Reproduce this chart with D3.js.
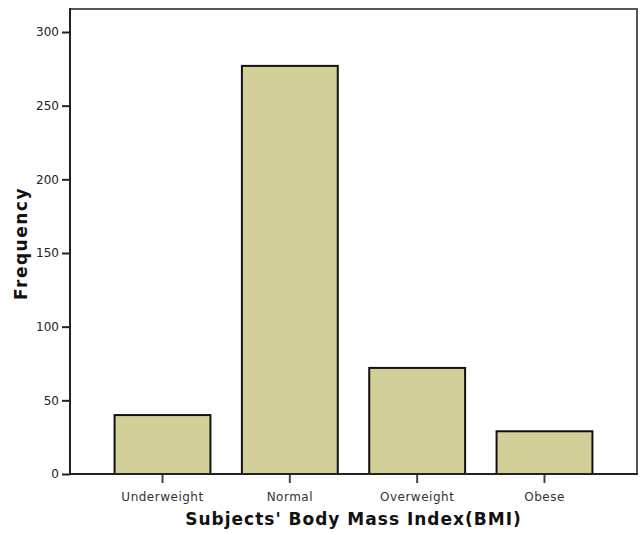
<!DOCTYPE html>
<html><head><meta charset="utf-8">
<script src="https://cdn.jsdelivr.net/npm/d3@7"></script>
<style>body{margin:0;background:#fff}svg{display:block}</style>
</head><body><svg id="c" width="640" height="533"></svg>
<script>
const categories = ["Underweight", "Normal", "Overweight", "Obese"];
const frequencies = [40, 277, 72, 29];
const yTicks = [0, 50, 100, 150, 200, 250, 300];
const xTitle = "Subjects' Body Mass Index(BMI)";
const yTitle = "Frequency";

const svg = d3.select("#c");
const L = 70, R = 637, T = 9, B = 474;
const x = d3.scaleBand().domain(categories).range([L, R]).paddingInner(0.247).paddingOuter(0.35);
const y = d3.scaleLinear().domain([0, 300]).range([B, 32]);

// frame top/right
svg.append("path").attr("d", `M${L},${T}H${R}V${B}`).attr("fill", "none").attr("stroke", "#555").attr("stroke-width", 2);

// bars
svg.append("g").selectAll("rect").data(categories).join("rect")
  .attr("x", d => x(d)).attr("width", x.bandwidth())
  .attr("y", (d, i) => y(frequencies[i])).attr("height", (d, i) => B - y(frequencies[i]))
  .attr("fill", "#d3cf99").attr("stroke", "#111").attr("stroke-width", 2);

// y axis
const ya = svg.append("g").attr("transform", `translate(${L},0)`)
  .call(d3.axisLeft(y).tickValues(yTicks).tickSize(8).tickPadding(3).tickSizeOuter(0));
ya.select(".domain").remove();
ya.append("line").attr("x1", 0).attr("x2", 0).attr("y1", T - 1).attr("y2", B + 1).attr("stroke", "#222").attr("stroke-width", 2);
ya.selectAll(".tick line").attr("stroke", "#222").attr("stroke-width", 2);
ya.selectAll(".tick text").attr("font-family", "DejaVu Sans, sans-serif").attr("font-size", 12).attr("fill", "#222");

// x axis
const xa = svg.append("g").attr("transform", `translate(0,${B})`)
  .call(d3.axisBottom(x).tickSize(9).tickPadding(9).tickSizeOuter(0));
xa.select(".domain").remove();
xa.append("line").attr("x1", L - 1).attr("x2", R + 1).attr("y1", 0).attr("y2", 0).attr("stroke", "#222").attr("stroke-width", 2);
xa.selectAll(".tick line").attr("stroke", "#444").attr("stroke-width", 2);
xa.selectAll(".tick text").attr("font-family", "DejaVu Sans, sans-serif").attr("font-size", 12)
  .attr("letter-spacing", 0.5).attr("fill", "#333");

// titles
svg.append("text").attr("x", (L + R) / 2).attr("y", 525).attr("text-anchor", "middle")
  .attr("font-family", "DejaVu Sans, sans-serif").attr("font-weight", "bold").attr("font-size", 17)
  .attr("letter-spacing", 1).attr("fill", "#111")
  .text(xTitle);
svg.append("text").attr("transform", `translate(27,${(T + B) / 2 + 2}) rotate(-90)`).attr("text-anchor", "middle")
  .attr("font-family", "DejaVu Sans, sans-serif").attr("font-weight", "bold").attr("font-size", 17)
  .attr("letter-spacing", 1.5).attr("fill", "#111")
  .text(yTitle);
</script></body></html>
